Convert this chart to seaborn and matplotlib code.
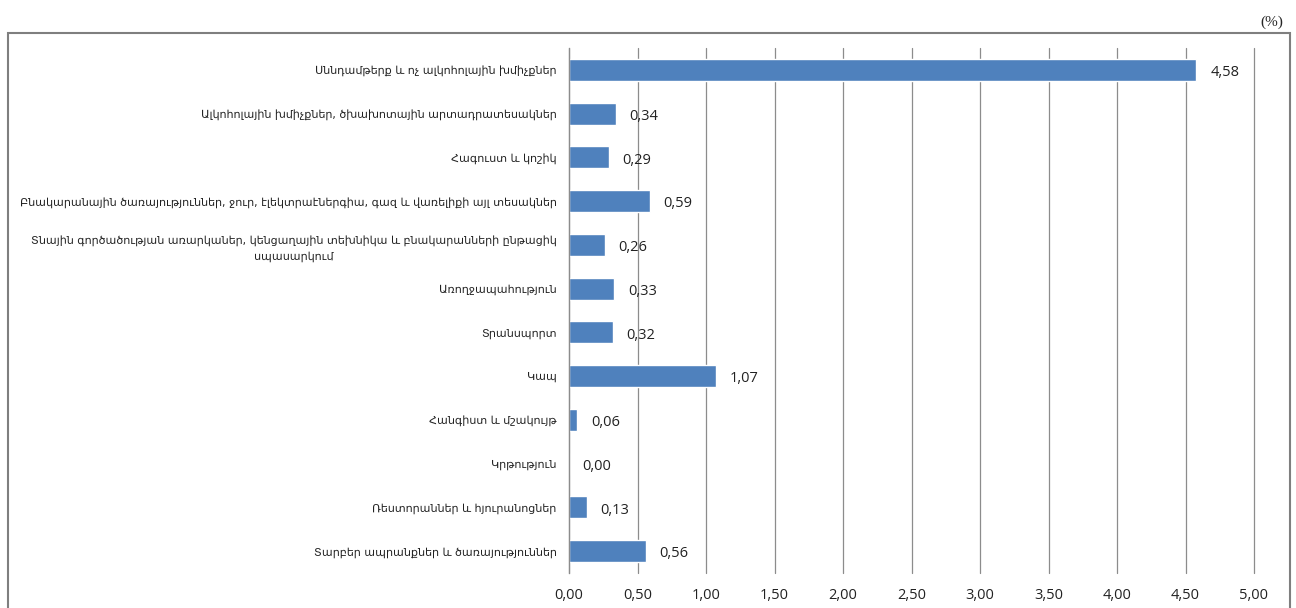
import numpy as np
import pandas as pd
import matplotlib
matplotlib.use("Agg")
import matplotlib.pyplot as plt
import seaborn as sns
from matplotlib.patches import Rectangle

## data ##

categories = [
    "Սննդամթերք և ոչ ալկոհոլային խմիչքներ",
    "Ալկոհոլային խմիչքներ, ծխախոտային արտադրատեսակներ",
    "Հագուստ և կոշիկ",
    "Բնակարանային ծառայություններ, ջուր, էլեկտրաէներգիա, գազ և վառելիքի այլ տեսակներ",
    "Տնային գործածության առարկաներ, կենցաղային տեխնիկա և բնակարանների ընթացիկ\nսպասարկում",
    "Առողջապահություն",
    "Տրանսպորտ",
    "Կապ",
    "Հանգիստ և մշակույթ",
    "Կրթություն",
    "Ռեստորաններ և հյուրանոցներ",
    "Տարբեր ապրանքներ և ծառայություններ",
]
values = [4.58, 0.34, 0.29, 0.59, 0.26, 0.33, 0.32, 1.07, 0.06, 0.00, 0.13, 0.56]
x_ticks = [0, 0.5, 1, 1.5, 2, 2.5, 3, 3.5, 4, 4.5, 5]

df = pd.DataFrame({"category": categories, "value": values})

## plot ##

sns.set_style("white")
plt.rcParams["font.family"] = ["DejaVu Sans"]

fig = plt.figure(figsize=(12.96, 6.08), dpi=100)
ax = fig.add_axes([569 / 1296, 1 - 573 / 608, (1254 - 569) / 1296, (573 - 48) / 608])

sns.barplot(data=df, x="value", y="category", color="#4F81BD", saturation=1,
            width=0.5, ax=ax, orient="h")

ax.set_xlim(0, 5)
ax.set_ylim(len(categories) - 0.5, -0.5)
ax.set_xticks(x_ticks)
ax.set_xticklabels([f"{t:.2f}".replace(".", ",") for t in x_ticks], fontsize=10.5,
                   family="Open Sans", color="#222222")
ax.set_xlabel("")
ax.set_ylabel("")
ax.xaxis.grid(True, color="#8c8c8c", linewidth=0.9)
for gl in ax.get_xgridlines():
    gl.set_clip_on(False)
ax.set_axisbelow(True)

ax.set_yticks(range(len(categories)))
ax.set_yticklabels(categories, fontsize=8.0, color="#222222",
                   multialignment="center", linespacing=1.6)
ax.tick_params(axis="y", length=0, pad=9)
ax.set_yticks(np.arange(-0.5, len(categories), 1), minor=True)
ax.tick_params(axis="y", which="minor", length=5, color="#8c8c8c", width=0.9)
ax.tick_params(axis="x", length=5, color="#8c8c8c", width=0.9, pad=6)

for s in ["top", "right", "bottom"]:
    ax.spines[s].set_visible(False)
ax.spines["left"].set_color("#8c8c8c")
ax.spines["left"].set_linewidth(0.9)

for i, v in enumerate(values):
    ax.text(v + 0.1, i + 0.06, f"{v:.2f}".replace(".", ","), va="center", ha="left",
            fontsize=10.5, family="Open Sans", color="#222222")

# outer frame and unit
fig.patches.append(Rectangle((8 / 1296, -0.01), (1290 - 8) / 1296, 1 - 33 / 608 + 0.01,
                             transform=fig.transFigure, fill=False,
                             edgecolor="#7f7f7f", linewidth=1.5))
fig.text(1283 / 1296, 1 - 22 / 608, "(%)", ha="right", va="center", fontsize=11,
         family="Liberation Serif")

fig.savefig("out.png", dpi=100)
